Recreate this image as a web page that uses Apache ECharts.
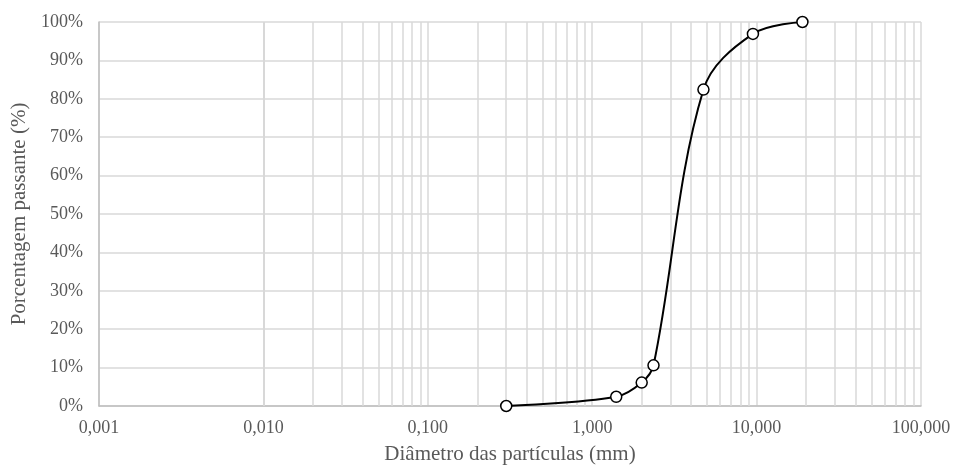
<!DOCTYPE html>
<html>
<head>
<meta charset="utf-8">
<script src="https://cdn.jsdelivr.net/npm/echarts@6/dist/echarts.min.js"></script>
<style>
html,body{margin:0;padding:0;background:#fff;}
#chart{width:954px;height:465px;}
</style>
</head>
<body>
<div id="chart"></div>
<script>
// Sieve diameters (mm) and percentage passing
const diameters = [0.3, 1.4, 2.0, 2.36, 4.75, 9.5, 19.0];
const passing = [0.0, 2.4, 6.1, 10.6, 82.4, 96.9, 100.0];
const xTitle = 'Diâmetro das partículas (mm)';
const yTitle = 'Porcentagem passante (%)';
const decades = [0.001, 0.01, 0.1, 1, 10];
const minorMultipliers = [2, 3, 4, 5, 6, 7, 8, 9];

const minorLines = [];
decades.forEach(d => minorMultipliers.forEach(m => minorLines.push({ xAxis: +(d * m).toPrecision(3) })));

const font = 'Liberation Serif';
const gridColor = '#d9d9d9';
const textColor = '#595959';

const chart = echarts.init(document.getElementById('chart'));
chart.setOption({
  animation: false,
  grid: { left: 99, right: 33, top: 22, bottom: 59, containLabel: false, outerBoundsMode: 'none' },
  xAxis: {
    type: 'log',
    logBase: 10,
    min: 0.001,
    max: 100,
    name: xTitle,
    nameLocation: 'middle',
    nameGap: 38,
    nameTextStyle: { fontFamily: font, fontSize: 21, color: textColor },
    axisLine: { show: true, lineStyle: { color: '#bfbfbf', width: 1.5 } },
    axisTick: { show: false },
    axisLabel: {
      fontFamily: font, fontSize: 18, color: textColor, margin: 13,
      formatter: v => Number(v).toFixed(3).replace('.', ',')
    },
    splitLine: { show: true, lineStyle: { color: gridColor, width: 1.5 } }
  },
  yAxis: {
    type: 'value',
    min: 0,
    max: 100,
    interval: 10,
    name: yTitle,
    nameLocation: 'middle',
    nameGap: 65,
    nameRotate: 90,
    nameTextStyle: { fontFamily: font, fontSize: 21, color: textColor },
    axisLine: { show: true, lineStyle: { color: '#bfbfbf', width: 1.5 } },
    axisTick: { show: false },
    axisLabel: { fontFamily: font, fontSize: 18, color: textColor, margin: 16, formatter: '{value}%' },
    splitLine: { show: true, lineStyle: { color: gridColor, width: 1.5 } }
  },
  series: [
    {
      type: 'line',
      data: [],
      z: 1,
      silent: true,
      markLine: {
        silent: true,
        symbol: 'none',
        label: { show: false },
        lineStyle: { color: gridColor, width: 1.5, type: 'solid' },
        data: minorLines
      }
    },
    {
      type: 'line',
      z: 5,
      data: diameters.map((d, i) => [d, passing[i]]),
      smooth: 0.35,
      symbol: 'circle',
      symbolSize: 11,
      showAllSymbol: true,
      lineStyle: { color: '#000', width: 2 },
      itemStyle: { color: '#fff', borderColor: '#000', borderWidth: 1.5 }
    }
  ]
});
</script>
</body>
</html>
